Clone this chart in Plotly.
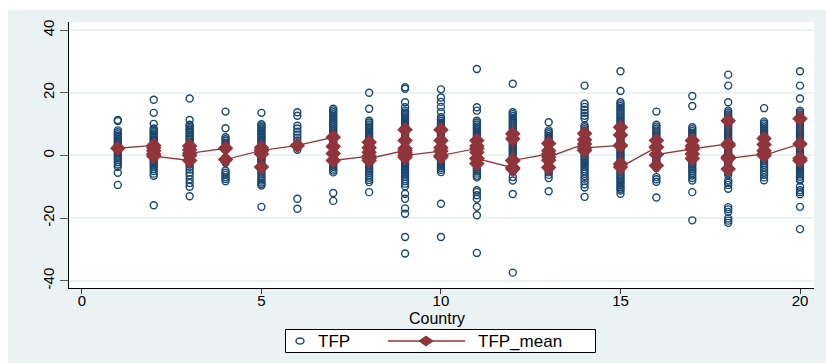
import plotly.graph_objects as go

# Country index on the horizontal axis
countries = list(range(1, 21))

# TFP observations for each country (one list per country, in country order)
tfp_values = [
    [11.3, 11.0, 8.0, 7.4, 6.8, 6.3, 5.9, 5.4, 4.9, 4.4, 3.9, 3.4, 3.0, 2.6, 2.1, 1.6, 1.2, 0.7, 0.2, -0.4,
     -0.9, -1.5, -2.2, -2.9, -3.6, -5.5, -9.4],
    [17.8, 13.6, 10.1, 8.6, 8.1, 7.6, 7.1, 6.6, 6.1, 5.6, 5.1, 4.7, 4.2, 3.8, 3.3, 2.9, 2.4, 2.0, 1.5, 1.1,
     0.6, 0.2, -0.3, -0.8, -1.3, -1.8, -2.4, -3.0, -3.6, -4.3, -5.0, -5.8, -6.5, -15.9],
    [18.2, 11.3, 9.8, 9.3, 8.7, 8.2, 7.6, 7.1, 6.5, 6.0, 5.4, 4.9, 4.3, 3.8, 3.2, 2.7, 2.1, 1.6, 1.0, 0.5,
     -0.1, -0.7, -1.3, -2.0, -2.8, -3.6, -4.5, -5.4, -6.4, -7.6, -8.8, -10.0, -13.0],
    [14.0, 8.7, 5.8, 5.2, 4.6, 4.0, 3.4, 2.7, 1.9, -1.0, -1.6, -2.3, -4.8, -5.5, -6.2, -6.9, -7.5, -8.2],
    [13.6, 10.0, 9.6, 9.1, 8.6, 8.1, 7.6, 7.1, 6.6, 6.1, 5.6, 5.1, 4.6, 4.1, 3.6, 3.1, 2.6, 2.1, 1.6, 1.1,
     0.6, 0.1, -0.4, -0.9, -1.4, -1.9, -2.5, -3.1, -3.7, -4.4, -5.1, -5.8, -6.6, -7.3, -8.0, -8.6, -9.1,
     -9.6, -16.4],
    [13.8, 12.7, 9.5, 8.6, 7.6, 6.6, 5.7, 4.8, 1.8, -13.8, -17.0],
    [14.9, 14.4, 13.8, 13.2, 12.6, 12.0, 11.4, 10.8, 10.2, 9.6, 9.0, 8.4, 7.8, 7.2, 6.6, 6.0, 5.4, 4.8, 4.2,
     3.6, 3.0, 2.4, 1.8, 1.2, 0.6, 0.0, -0.6, -1.2, -1.8, -2.4, -3.0, -3.6, -4.2, -4.8, -5.4, -12.0, -14.5],
    [20.0, 14.9, 11.1, 10.5, 9.9, 9.3, 8.7, 8.1, 7.5, 6.9, 6.3, 5.7, 5.1, 4.5, 3.9, 3.3, 2.7, 2.1, 1.5, 0.9,
     0.3, -0.3, -0.9, -1.5, -2.1, -2.7, -3.3, -3.9, -4.5, -5.1, -5.7, -6.4, -7.1, -7.8, -8.5, -11.7],
    [21.8, 21.3, 17.0, 15.4, 14.3, 13.7, 13.1, 12.5, 11.9, 11.3, 10.7, 10.1, 9.5, 8.9, 8.3, 7.7, 7.1, 6.5,
     5.9, 5.3, 4.7, 4.1, 3.5, 2.9, 2.3, 1.7, 1.1, 0.5, -0.1, -0.7, -1.3, -1.9, -2.5, -3.1, -3.7, -4.3, -4.9,
     -5.5, -6.1, -6.8, -7.5, -8.2, -9.0, -9.8, -12.2, -13.8, -16.9, -18.6, -26.0, -31.3],
    [21.1, 18.5, 17.1, 15.5, 13.9, 12.2, 11.6, 11.0, 10.4, 9.8, 9.2, 8.6, 8.0, 7.4, 6.8, 6.2, 5.6, 5.0, 4.4,
     3.8, 3.2, 2.6, 2.0, 1.4, 0.8, 0.2, -0.4, -1.0, -1.6, -2.2, -2.8, -3.4, -4.0, -4.6, -5.3, -15.4, -26.0],
    [27.6, 15.4, 14.3, 11.1, 10.5, 9.9, 9.3, 8.7, 8.1, 7.5, 6.9, 6.3, 5.7, 5.1, 4.5, 3.9, 3.3, 2.7, 2.1, 1.5,
     0.9, 0.3, -0.3, -0.9, -1.5, -2.1, -2.7, -3.3, -3.9, -4.5, -5.1, -5.8, -6.5, -7.0, -11.1, -11.7, -12.7,
     -13.8, -16.4, -19.1, -31.1],
    [22.9, 13.8, 13.2, 12.6, 12.0, 11.4, 10.8, 10.2, 9.6, 9.0, 8.4, 7.8, 7.2, 6.6, 6.0, 5.4, 4.8, 4.2, 3.6,
     3.0, 2.4, 1.8, 1.2, 0.6, 0.0, -0.6, -1.2, -1.8, -2.4, -3.0, -3.7, -5.2, -6.9, -8.0, -12.3, -37.4],
    [10.6, 8.0, 7.4, 6.8, 6.2, 5.6, 5.0, 4.4, 3.8, 3.2, 2.6, 2.0, 1.4, 0.8, 0.2, -0.4, -1.0, -1.6, -2.2, -2.8,
     -3.4, -4.0, -4.7, -5.4, -6.2, -7.2, -11.4],
    [22.3, 16.5, 15.5, 14.6, 13.6, 12.7, 11.8, 9.6, 9.0, 8.4, 7.8, 7.2, 6.6, 6.0, 5.4, 4.8, 4.2, 3.6, 3.0,
     2.4, 1.8, 1.2, 0.6, 0.0, -0.6, -1.2, -1.8, -2.4, -3.0, -3.6, -4.3, -5.0, -5.8, -6.6, -7.4, -8.2, -9.2,
     -10.2, -13.2],
    [26.9, 20.6, 17.0, 16.4, 15.8, 15.2, 14.6, 14.0, 13.4, 12.8, 12.2, 11.6, 11.0, 10.4, 9.8, 9.2, 8.6, 8.0,
     7.4, 6.8, 6.2, 5.6, 5.0, 4.4, 3.8, 3.2, 2.6, 2.0, 1.4, 0.8, 0.2, -0.4, -1.0, -1.6, -2.2, -2.8, -3.4,
     -4.0, -4.6, -5.2, -5.8, -6.4, -7.0, -7.6, -8.2, -8.8, -9.4, -10.0, -10.6, -11.2, -12.2],
    [14.0, 9.8, 9.2, 8.6, 8.0, 7.4, 6.8, 6.2, 5.6, 5.0, 4.4, 3.8, 3.2, 2.6, 2.0, 1.4, 0.8, 0.2, -0.4, -1.0,
     -1.6, -2.2, -2.8, -3.4, -4.0, -6.9, -7.6, -8.4, -13.4],
    [19.0, 15.8, 9.0, 8.4, 7.8, 7.2, 6.6, 6.0, 5.4, 4.8, 4.2, 3.6, 3.0, 2.4, 1.8, 1.2, 0.6, 0.0, -0.6, -1.2,
     -1.8, -2.4, -3.0, -3.6, -4.2, -4.9, -5.6, -6.4, -7.2, -8.0, -11.7, -20.7],
    [25.8, 22.3, 17.0, 14.3, 13.7, 13.1, 12.5, 11.9, 11.3, 10.7, 10.1, 9.5, 8.9, 8.3, 7.7, 7.1, 6.5, 5.9,
     5.3, 4.7, 4.1, 3.5, 2.9, 2.3, 1.7, 1.1, 0.5, -0.1, -0.7, -1.3, -1.9, -2.5, -3.1, -3.7, -4.3, -4.9,
     -5.5, -6.2, -8.0, -8.7, -9.4, -10.6, -16.5, -17.2, -18.0, -20.1, -20.8, -21.5],
    [15.1, 10.8, 10.2, 9.6, 9.0, 8.4, 7.8, 7.2, 6.6, 6.0, 5.4, 4.8, 4.2, 3.6, 3.0, 2.4, 1.8, 1.2, 0.6, 0.0,
     -0.6, -1.2, -1.8, -2.4, -3.0, -3.8, -4.6, -5.4, -6.2, -7.0, -7.9],
    [26.9, 22.3, 18.2, 14.3, 13.7, 13.1, 12.5, 11.9, 11.3, 10.7, 10.1, 9.5, 8.9, 8.3, 7.7, 7.1, 6.5, 5.9,
     5.3, 4.7, 4.1, 3.5, 2.9, 2.3, 1.7, 1.1, 0.5, -0.1, -0.7, -1.3, -1.9, -2.5, -3.1, -3.7, -4.3, -4.9,
     -5.5, -6.1, -6.8, -7.5, -8.0, -10.0, -11.1, -11.7, -12.4, -16.4, -23.5],
]

# TFP_mean values for each country, in the order the connecting line visits them
tfp_mean_values = [
    [2.3],
    [3.2, 2.5, 1.5, 0.5, -0.2],
    [-1.6, 0.0, 3.0, 1.8, 0.7],
    [2.3, -1.3],
    [1.6, 2.5, -3.7, 0.5, 1.6],
    [3.2],
    [5.8, 2.9, 0.6, -1.6],
    [-0.2, 4.2, 2.5, 1.0, -1.6, -1.0],
    [1.6, 8.2, 4.8, 2.2, 0.8, -0.6, 0.0],
    [1.4, 8.2, 4.8, 2.5, -0.5, 0.0],
    [2.2, 4.8, 3.0, 1.0, -1.0, -2.6, -1.0],
    [-3.9, 6.9, 5.3, -1.6, -4.3, -1.6],
    [0.5, 3.8, 1.5, -1.5, -3.8, -0.5],
    [3.7, 7.0, 5.0, 1.6, 2.4],
    [3.2, 9.0, 6.5, 3.2, -2.7, -3.7],
    [2.6, 4.8, 2.7, -3.2, 0.3],
    [2.1, 4.8, 3.0, 0.5, -1.0, 2.1],
    [3.7, 11.1, 3.2, -0.5, -4.3, -1.0],
    [0.5, 5.4, 3.5, 1.5, 0.0],
    [3.7, 11.7, -1.0, -1.6],
]

y_tick_values = [-40, -20, 0, 20, 40]
y_tick_labels = ["-40", "-20", "0", "20", "40"]
x_tick_values = [0, 5, 10, 15, 20]
x_title = "Country"
legend_labels = ["TFP", "TFP_mean"]

NAVY = "#1A476F"
MAROON = "#90353B"
BG = "#EAF2F3"
FONT = "Liberation Sans, Arial, sans-serif"

# Long-format arrays (country repeated for every observation)
tfp_x, tfp_y = [], []
for c, vals in zip(countries, tfp_values):
    tfp_x += [c] * len(vals)
    tfp_y += vals

mean_x, mean_y = [], []
for c, vals in zip(countries, tfp_mean_values):
    mean_x += [c] * len(vals)
    mean_y += vals

fig = go.Figure()
fig.add_trace(go.Scatter(
    x=tfp_x, y=tfp_y, mode="markers", name=legend_labels[0],
    marker=dict(symbol="circle-open", size=7, color=NAVY, line=dict(width=1.4, color=NAVY)),
))
fig.add_trace(go.Scatter(
    x=mean_x, y=mean_y, mode="lines+markers", name=legend_labels[1],
    line=dict(color=MAROON, width=1.3),
    marker=dict(symbol="diamond", size=12, color=MAROON),
))

# Plot area: left 69, right 814, top 22, bottom 288 (px)
L, R, T, B = 69, 12, 22, 75
W, H = 826, 363
pw, ph = W - L - R, H - T - B

def px_x(px):
    return (px - L) / pw

def px_y(py):
    return (H - B - py) / ph

shapes = [
    # white strips around the tinted graph region
    dict(type="rect", xref="paper", yref="paper", layer="below",
         x0=px_x(0), x1=px_x(W), y0=px_y(10), y1=px_y(0),
         fillcolor="white", line=dict(width=0)),
    dict(type="rect", xref="paper", yref="paper", layer="below",
         x0=px_x(0), x1=px_x(8), y0=px_y(H), y1=px_y(0),
         fillcolor="white", line=dict(width=0)),
    # legend frame
    dict(type="rect", xref="paper", yref="paper",
         x0=px_x(285.5), x1=px_x(595.5), y0=px_y(352.5), y1=px_y(329.5),
         fillcolor="white", line=dict(color="black", width=1)),
    # legend key: hollow circle
    dict(type="circle", xref="paper", yref="paper",
         x0=px_x(296), x1=px_x(304), y0=px_y(344), y1=px_y(338),
         fillcolor="rgba(0,0,0,0)", line=dict(color=NAVY, width=1.4)),
    # legend key: connected line with diamond
    dict(type="line", xref="paper", yref="paper",
         x0=px_x(388), x1=px_x(465), y0=px_y(341), y1=px_y(341),
         line=dict(color=MAROON, width=1.3)),
    dict(type="path", xref="paper", yref="paper",
         path=(f"M {px_x(419)},{px_y(341)} L {px_x(426)},{px_y(336)} "
               f"L {px_x(433)},{px_y(341)} L {px_x(426)},{px_y(346)} Z"),
         fillcolor=MAROON, line=dict(color=MAROON, width=1)),
]

annotations = [
    dict(text=legend_labels[0], xref="paper", yref="paper", x=px_x(316), y=px_y(341),
         xanchor="left", yanchor="middle", showarrow=False,
         font=dict(family=FONT, size=17, color="black")),
    dict(text=legend_labels[1], xref="paper", yref="paper", x=px_x(476), y=px_y(341),
         xanchor="left", yanchor="middle", showarrow=False,
         font=dict(family=FONT, size=17, color="black")),
    # horizontal axis title
    dict(text=x_title, xref="paper", yref="paper", x=px_x(437), y=px_y(318),
         xanchor="center", yanchor="middle", showarrow=False,
         font=dict(family=FONT, size=16, color="black")),
]

fig.update_layout(
    width=W, height=H,
    margin=dict(l=L, r=R, t=T, b=B, pad=0),
    paper_bgcolor=BG,
    plot_bgcolor="white",
    font=dict(family=FONT, size=15, color="black"),
    shapes=shapes,
    annotations=annotations,
    showlegend=False,
    xaxis=dict(
        range=[-0.36, 20.39], tickvals=x_tick_values, automargin=False,
        ticks="outside", ticklen=5, tickcolor="#333", tickwidth=1,
        ticklabelstandoff=-6,
        showline=True, linecolor="black", linewidth=1,
        showgrid=False, zeroline=False,
        tickfont=dict(size=15),
    ),
    yaxis=dict(
        range=[-42.3, 42.6], tickvals=y_tick_values, ticktext=y_tick_labels,
        tickangle=-90, ticks="outside", ticklen=8, tickcolor="#555", tickwidth=1,
        showline=True, linecolor="black", linewidth=1, automargin=False,
        showgrid=True, gridcolor=BG, gridwidth=1.5, zeroline=False,
        tickfont=dict(size=15),
    ),
)

fig.write_html("out.html")
